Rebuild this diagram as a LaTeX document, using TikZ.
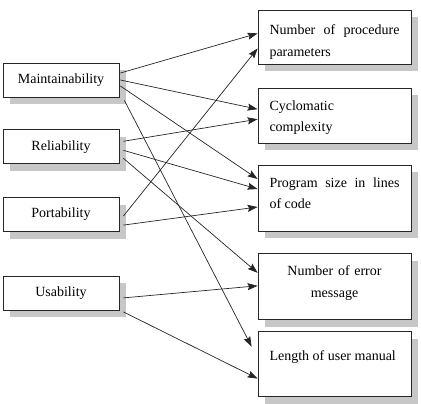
\documentclass[tikz,border=0pt]{standalone}
\usepackage{fontspec}
\setmainfont{Liberation Serif}
\usetikzlibrary{positioning,arrows.meta,shadows}
\tikzset{
  >={Stealth[length=10pt,width=7pt,inset=1.5pt]},
  boxshadow/.style={drop shadow={shadow xshift=7pt,shadow yshift=-7pt,
    fill=black!22,opacity=1}},
  qbox/.style={draw=black!85,line width=0.8pt,fill=white,boxshadow,
    minimum width=116pt,minimum height=34pt,inner sep=0pt,
    font=\fontsize{14}{21}\selectfont},
  mbox/.style={draw=black!85,line width=0.8pt,fill=white,boxshadow,
    text width=130pt,inner xsep=11.5pt,inner ysep=0pt,align=justify,
    text height=22pt,font=\fontsize{14}{21.5}\selectfont},
  link/.style={->,line width=0.7pt,black!85},
}

\begin{document}
\begin{tikzpicture}[x=1pt,y=1pt]
  \useasboundingbox (0,0) rectangle (421,-404);
  % quality attributes
  \node[qbox] (maint) at (61,-80) {Maintainability};
  \node[qbox,below=32pt of maint] (rel) {Reliability};
  \node[qbox,below=33pt of rel] (port) {Portability};
  \node[qbox,below=44pt of port] (usab) {Usability};
  % metrics
  \node[mbox,text height=24.5pt,text depth=29.5pt,anchor=north] (nproc) at (334.5,-10)
    {Number of procedure parameters};
  \node[mbox,text depth=33pt,below=23pt of nproc] (cyclo)
    {Cyclomatic\\ complexity};
  \node[mbox,text depth=44pt,below=21pt of cyclo] (prog)
    {Program size in lines\linebreak of code};
  \node[mbox,text depth=44pt,below=22pt of prog,align=center] (err)
    {Number of error\\ message};
  \node[mbox,text height=29pt,text depth=36pt,below=11pt of err] (len)
    {Length of user manual};
  % links
  \draw[link] ([xshift=1pt,yshift=7pt]maint.east) -- ([yshift=4pt]nproc.west);
  \draw[link] ([xshift=1pt]maint.east) -- ([yshift=6.5pt]cyclo.west);
  \draw[link] ([xshift=1pt,yshift=-6pt]maint.east) -- ([yshift=19pt]prog.west);
  \draw[link] ([xshift=5pt,yshift=-3pt]maint.south east) -- ([xshift=-6pt,yshift=17.5pt]len.west);
  \draw[link] ([xshift=4pt,yshift=5.5pt]rel.east) -- ([yshift=-3.5pt]cyclo.west);
  \draw[link] ([xshift=4pt,yshift=-3.5pt]rel.east) -- ([yshift=9pt]prog.west);
  \draw[link] ([xshift=4pt,yshift=-11.5pt]rel.east) -- ([yshift=14pt]err.west);
  \draw[link] ([xshift=4pt,yshift=-1.5pt]port.east) -- ([yshift=-11pt]nproc.west);
  \draw[link] ([xshift=4pt,yshift=-10.5pt]port.east) -- ([yshift=-9pt]prog.west);
  \draw[link] ([xshift=4pt,yshift=-4.5pt]usab.east) -- ([yshift=1pt]err.west);
  \draw[link] ([xshift=4pt,yshift=-18.5pt]usab.east) -- ([yshift=-14.5pt]len.west);
\end{tikzpicture}
\end{document}
